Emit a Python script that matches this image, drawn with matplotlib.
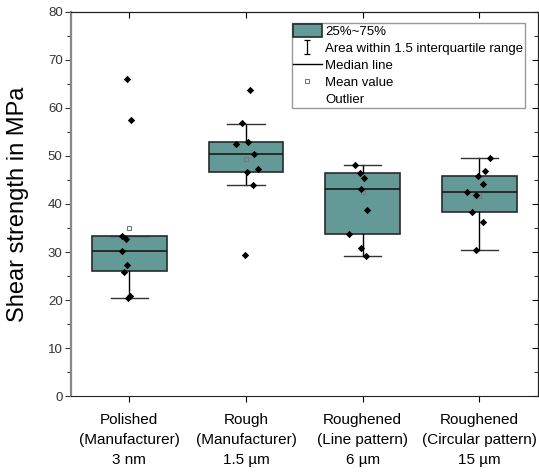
import numpy as np
import matplotlib
matplotlib.use("Agg")
from matplotlib import pyplot as plt
from matplotlib.patches import Patch
from matplotlib.lines import Line2D
from matplotlib.path import Path

plt.rcParams['font.family'] = ['Liberation Sans', 'DejaVu Sans']

categories = ["Polished\n(Manufacturer)\n3 nm",
              "Rough\n(Manufacturer)\n1.5 µm",
              "Roughened\n(Line pattern)\n6 µm",
              "Roughened\n(Circular pattern)\n15 µm"]

# box statistics
q1 = [26.0, 46.6, 33.7, 38.3]
median = [30.2, 50.5, 43.1, 42.4]
q3 = [33.4, 53.0, 46.4, 45.8]
whisker_low = [20.5, 44.0, 29.1, 30.5]
whisker_high = [33.4, 56.7, 48.2, 49.6]
means = [34.9, 49.3, 42.4, 41.7]

# individual measurements
polished = [66.0, 57.5, 33.4, 32.7, 30.2, 27.3, 25.9, 20.9, 20.5]
rough = [63.8, 56.8, 52.6, 53.0, 50.5, 47.3, 46.6, 44.0, 29.3]
line_pattern = [48.2, 46.5, 45.4, 43.2, 38.7, 33.7, 30.8, 29.1]
circular = [49.6, 46.8, 45.8, 44.1, 42.5, 41.9, 38.3, 36.2, 30.5]

# horizontal scatter of the dots as seen in the picture
jitter = [[-0.023, 0.014, -0.063, -0.026, -0.06, -0.02, -0.043, 0.006, -0.009],
          [0.031, -0.037, -0.089, 0.014, 0.069, 0.103, 0.009, 0.063, -0.006],
          [-0.066, -0.02, 0.009, -0.011, 0.037, -0.114, -0.011, 0.026],
          [0.089, 0.049, -0.011, 0.031, -0.103, -0.031, -0.06, 0.031, -0.031]]

box_colour = '#639a97'

fig = plt.figure(figsize=(5.39, 4.72), dpi=100)
ax = fig.add_axes([0.1317, 0.161, 0.866, 0.8136])

pos = np.arange(1, len(categories) + 1)
stats = []
for i in range(len(categories)):
    stats.append(dict(q1=q1[i], med=median[i], q3=q3[i], whislo=whisker_low[i],
                      whishi=whisker_high[i], mean=means[i], fliers=[]))

ax.bxp(stats, positions=pos, widths=0.64, capwidths=0.32, patch_artist=True,
       showmeans=True, showfliers=False,
       boxprops=dict(facecolor=box_colour, edgecolor='#2a2a2a', linewidth=1.2),
       medianprops=dict(color='#1a1a1a', linewidth=1.2),
       whiskerprops=dict(color='black', linewidth=1),
       capprops=dict(color='#333333', linewidth=1),
       meanprops=dict(marker='s', markerfacecolor='none', markeredgecolor='#777777',
                      markersize=3.5, markeredgewidth=0.8))

for i, vals in enumerate([polished, rough, line_pattern, circular]):
    xs = pos[i] + np.array(jitter[i])
    ax.scatter(xs, vals, marker='D', s=14, color='black', zorder=4, linewidths=0)

ax.set_xlim(0.5, 4.5)
ax.set_ylim(0, 80)
ax.set_yticks(np.arange(0, 81, 10))
ax.set_yticks(np.arange(5, 80, 10), minor=True)
ax.set_xticks(pos)
ax.set_xticklabels(categories, fontsize=11, linespacing=1.55)
ax.tick_params(axis='y', which='major', direction='out', length=4, labelsize=9.5,
               colors='#333333', pad=2)
ax.tick_params(axis='y', which='minor', direction='out', length=3)
ax.tick_params(axis='x', direction='out', length=4, pad=8)
ax.set_ylabel("Shear strength in MPa", fontsize=17)
ax.yaxis.set_label_coords(-0.09, 0.5)

for side in ['top', 'right', 'bottom']:
    ax.spines[side].set_color('#222222')
ax.spines['left'].set_color('#888888')
ax.spines['left'].set_linewidth(1.6)

top = ax.secondary_xaxis('top')
top.set_xticks(pos)
top.set_xticklabels([])
top.tick_params(direction='in', length=4)
right = ax.secondary_yaxis('right')
right.set_yticks(np.arange(0, 81, 10))
right.set_yticks(np.arange(5, 80, 10), minor=True)
right.set_yticklabels([])
right.tick_params(which='major', direction='in', length=4)
right.tick_params(which='minor', direction='in', length=3)

ibar = Path([(-0.5, -1), (0.5, -1), (0, -1), (0, 1), (-0.5, 1), (0.5, 1)],
            [Path.MOVETO, Path.LINETO, Path.MOVETO, Path.LINETO, Path.MOVETO, Path.LINETO])
handles = [
    Patch(facecolor=box_colour, edgecolor='#2a2a2a', linewidth=1.2),
    Line2D([], [], ls='none', marker=ibar, markersize=10, color='black',
           markerfacecolor='none', markeredgewidth=0.9),
    Line2D([], [], color='black', linewidth=1),
    Line2D([], [], ls='none', marker='s', markerfacecolor='none',
           markeredgecolor='#777777', markersize=3.5, markeredgewidth=0.8),
    Line2D([], [], ls='none'),
]
labels = ["25%~75%", "Area within 1.5 interquartile range", "Median line",
          "Mean value", "Outlier"]
leg = ax.legend(handles, labels, loc='upper right', bbox_to_anchor=(0.972, 0.972),
                borderaxespad=0, fontsize=9.5, fancybox=False, framealpha=1,
                edgecolor='#999999', borderpad=0.1, labelspacing=0.25,
                handlelength=2.2, handleheight=1.1, handletextpad=0.25)
leg.get_frame().set_linewidth(1)

fig.savefig("out.png", dpi=100)
